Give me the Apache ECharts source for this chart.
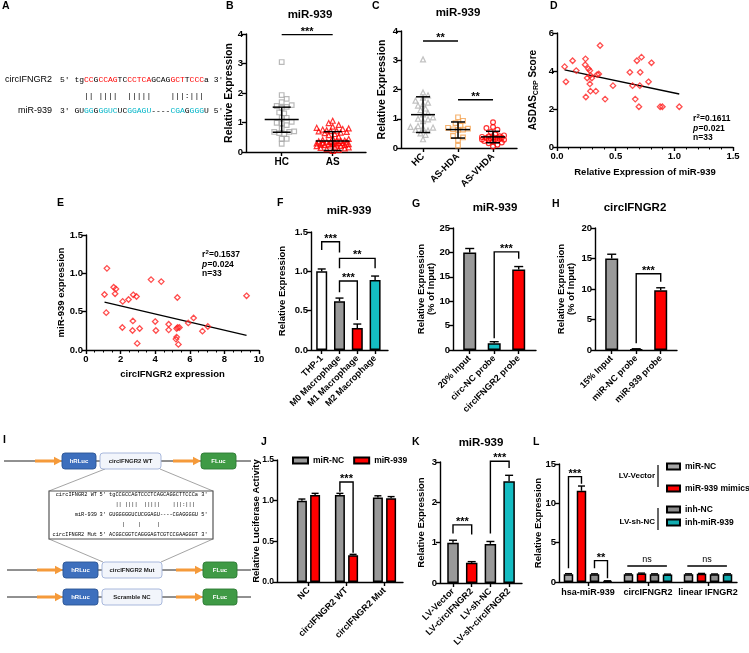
<!DOCTYPE html>
<html>
<head>
<meta charset="utf-8">
<title>circIFNGR2 / miR-939</title>
<script src="https://cdn.jsdelivr.net/npm/echarts@6.0.0/dist/echarts.min.js"></script>
<style>
html,body{margin:0;padding:0;background:#ffffff;}
#chart{width:749px;height:653px;}
</style>
</head>
<body>
<div id="chart"></div>
<script>
const SANS = '"Liberation Sans", Arial, sans-serif';
const MONO = '"Liberation Mono", "DejaVu Sans Mono", monospace';

// ===== Panel A / I : sequences =====
const seqCircWT  = 'tgCCGCCAGTCCCTCAGCAGGCTTCCCa';
const seqMiR939  = 'GUGGGGGUCUCGGAGU----CGAGGGGU';
const seqCircMut = 'ACGGCGGTCAGGGAGTCGTCCGAAGGGT';
const pairWT  = '  || ||||  |||||    |||:|||';
const pairMut = '    |    |     |';

// ===== Panel B =====
const bCategories = ['HC', 'AS'];
const bHC = [3.05,1.93,1.80,1.69,1.59,1.56,1.53,1.50,1.34,1.31,1.16,1.16,1.02,0.99,0.97,0.91,0.80,0.70,0.68,0.68,0.64,0.61,0.45,0.45,0.28];
const bAS = [1.06,0.98,0.92,0.86,0.82,0.80,0.78,0.76,0.74,0.72,0.71,0.70,0.68,0.66,0.64,0.61,0.57,0.52,0.47,0.44,0.41,0.39,0.38,0.37,0.36,0.35,0.34,0.33,0.32,0.31,0.30,0.30,0.29,0.28,0.27,0.27,0.26,0.25,0.24,0.23,0.22,0.21,0.20,0.18,0.16,0.14,0.12,0.10,0.07,0.04];
const bMean = [1.10, 0.37];
const bSDLow = [0.67, 0.05];
const bSDHigh = [1.52, 0.69];
const bSig = [[1, 2, 3.98, 3.98, 3.98]];
const bSigLabels = ['***'];

// ===== Panel C =====
const cCategories = ['HC', 'AS-HDA', 'AS-VHDA'];
const cHC = [3.03,1.90,1.80,1.72,1.62,1.55,1.50,1.45,1.35,1.30,1.20,1.15,1.05,1.00,0.98,0.92,0.75,0.72,0.70,0.68,0.62,0.60,0.50,0.45,0.30];
const cHDA = [1.05,0.93,0.85,0.76,0.69,0.66,0.64,0.63,0.62,0.41,0.36,0.27,0.08];
const cVHDA = [0.88,0.72,0.68,0.62,0.55,0.47,0.43,0.40,0.39,0.38,0.37,0.36,0.35,0.34,0.33,0.31,0.30,0.29,0.28,0.27,0.26,0.24,0.22,0.19,0.16,0.11,0.05];
const cMean = [1.14, 0.63, 0.38];
const cSDLow = [0.53, 0.34, 0.18];
const cSDHigh = [1.75, 0.89, 0.57];
const cSig = [[1, 2, 3.66, 3.66, 3.66], [2, 3, 1.65, 1.65, 1.65]];
const cSigLabels = ['**', '**'];

// ===== Panel D =====
const dX = [0.065,0.076,0.133,0.164,0.243,0.240,0.246,0.268,0.280,0.257,0.280,0.285,0.297,0.285,0.331,0.342,0.356,0.367,0.410,0.477,0.621,0.644,0.667,0.681,0.698,0.706,0.709,0.720,0.780,0.805,0.879,0.898,1.042];
const dY = [4.23,3.43,4.54,4.02,4.64,4.33,2.63,4.12,4.02,3.63,3.32,2.94,3.63,3.77,2.94,3.81,3.84,5.34,2.52,3.23,3.93,3.23,2.52,4.54,2.12,3.23,3.93,4.73,3.43,4.43,2.12,2.12,2.12];
const dFitX = [0.065, 1.042];
const dFitY = [4.06, 2.79];
const dStats = ['0.1611', '0.021', '33'];

// ===== Panel E =====
const eX = [1.21,1.07,1.17,1.60,1.73,1.68,2.12,2.10,2.46,2.73,2.92,2.71,2.69,2.96,3.10,3.76,4.00,4.04,4.35,4.78,4.78,5.28,5.20,5.24,5.30,5.40,5.24,5.34,5.91,6.22,6.73,7.04,9.28];
const eY = [1.065,0.724,0.487,0.819,0.797,0.733,0.634,0.293,0.659,0.720,0.698,0.379,0.254,0.086,0.280,0.918,0.371,0.254,0.892,0.336,0.263,0.685,0.142,0.168,0.293,0.293,0.280,0.073,0.353,0.418,0.246,0.306,0.707];
const eFitX = [1.07, 9.28];
const eFitY = [0.625, 0.190];
const eStats = ['0.1537', '0.024', '33'];

// ===== Panel F =====
const fCategories = ['THP-1', 'M0 Macrophage', 'M1 Macrophage', 'M2 Macrophage'];
const fValues = [1.00, 0.62, 0.28, 0.89];
const fErrors = [0.03, 0.04, 0.05, 0.05];
const fSig = [[1, 2, 1.376, 1.27, 1.24], [2, 4, 1.165, 1.04, 1.04], [2, 3, 0.877, 0.733, 0.38]];
const fSigLabels = ['***', '**', '***'];

// ===== Panel G =====
const gCategories = ['20% Input', 'circ-NC probe', 'circIFNGR2 probe'];
const gValues = [20.0, 1.4, 16.5];
const gErrors = [0.8, 0.3, 0.6];
const gSig = [[2, 3, 20.1, 2.4, 18.7]];
const gSigLabels = ['***'];

// ===== Panel H =====
const hCategories = ['15% Input', 'miR-NC probe', 'miR-939 probe'];
const hValues = [15.0, 0.1, 9.8];
const hErrors = [0.7, 0.1, 0.4];
const hSig = [[2, 3, 12.5, 1.1, 11.2]];
const hSigLabels = ['***'];

// ===== Panel J =====
const jCategories = ['NC', 'circIFNGR2 WT', 'circIFNGR2 Mut'];
const jMiRNC = [1.00, 1.07, 1.04];
const jMiRNCErr = [0.02, 0.02, 0.02];
const jMiR939 = [1.07, 0.33, 1.03];
const jMiR939Err = [0.02, 0.01, 0.02];
const jSigLabels = ['***'];

// ===== Panel K =====
const kCategories = ['LV-Vector', 'LV-circIFNGR2', 'LV-sh-NC', 'LV-sh-circIFNGR2'];
const kValues = [1.00, 0.50, 0.97, 2.52];
const kErrors = [0.06, 0.03, 0.06, 0.15];
const kSig = [[1, 2, 1.44, 1.23, 1.20], [3, 4, 3.02, 1.23, 2.85]];
const kSigLabels = ['***', '***'];

// ===== Panel L =====
const lCategories = ['hsa-miR-939', 'circIFNGR2', 'linear IFNGR2'];
const lMiRNC = [1.00, 1.00, 1.00];
const lMimics = [11.6, 1.08, 1.05];
const lInhNC = [0.98, 1.00, 0.98];
const lInh939 = [0.12, 0.95, 0.98];
const lMiRNCErr = [0.06, 0.04, 0.04];
const lMimicsErr = [0.6, 0.05, 0.04];
const lInhNCErr = [0.06, 0.04, 0.04];
const lInh939Err = [0.03, 0.05, 0.06];
const lSigLabels = ['***', '**', 'ns', 'ns'];

// ---------- layout ----------
const GRID = [
  {left:246, top:34,  width:120, height:118}, // B
  {left:401, top:31,  width:116, height:117}, // C
  {left:557, top:33,  width:176, height:114}, // D
  {left:86,  top:235, width:173, height:115}, // E
  {left:311, top:232, width:77,  height:118}, // F
  {left:453, top:228, width:83,  height:122}, // G
  {left:595, top:228, width:82,  height:122}, // H
  {left:277, top:460, width:126, height:122}, // J
  {left:440, top:462, width:82,  height:121}, // K
  {left:559, top:464, width:178, height:118}  // L
];
const J_OFF = 6.6 / 38;           // half pair spacing in axis units
const L_OFF1 = 6.5 / 60, L_OFF2 = 19.5 / 60;

const RED = '#ff0000', GREY = '#999999', TEAL = '#14bcc2';

const AXLINE = {show:true, onZero:false, lineStyle:{color:'#000', width:1.4}};
function tick(len) { return {show:true, inside:false, length:len || 4, lineStyle:{color:'#000', width:1.4}}; }
function lbl(fs) { return {color:'#000', fontFamily:SANS, fontWeight:'bold', fontSize:fs || 9.5}; }
const fix1 = v => v.toFixed(1);

function valY(gi, min, max, interval, name, gap, fs, fmt, extraName, labelSize) {
  const ax = {
    type:'value', gridIndex:gi, min, max, interval,
    axisLine:AXLINE, axisTick:tick(), splitLine:{show:false},
    axisLabel:Object.assign(lbl(labelSize || 9.5), {margin:3}),
    name, nameLocation:'middle', nameGap:gap, nameMoveOverlap:false,
    nameTextStyle:Object.assign({color:'#000', fontFamily:SANS, fontWeight:'bold', fontSize:fs}, extraName || {})
  };
  if (fmt) ax.axisLabel.formatter = fmt;
  return ax;
}
function catX(gi, min, max, cats, rotate, fs, margin) {
  const pos = cats.map((c, i) => i + 1);
  return {
    type:'value', gridIndex:gi, min, max,
    axisLine:AXLINE, axisTick:Object.assign(tick(), {customValues:pos}), splitLine:{show:false},
    axisLabel:Object.assign(lbl(fs || 9.5), {customValues:pos, rotate:rotate || 0, margin:margin || 4,
      formatter: v => cats[Math.round(v) - 1] || ''})
  };
}

// simple beeswarm: horizontal pixel offsets so markers do not pile up
function swarm(vals, pxY, collide, step, maxOff) {
  const order = vals.map((v, i) => i).sort((a, b) => vals[a] - vals[b]);
  const placed = [], off = new Array(vals.length).fill(0);
  order.forEach(i => {
    const y = vals[i] * pxY;
    let best = 0, bestD = -1;
    for (let k = 0; k < 80; k++) {
      const o = (k % 2 === 1 ? 1 : -1) * Math.ceil(k / 2) * step;
      if (Math.abs(o) > maxOff) break;
      let dmin = Infinity;
      placed.forEach(p => { dmin = Math.min(dmin, Math.hypot(p[0] - o, p[1] - y)); });
      if (dmin >= collide) { best = o; break; }
      if (dmin > bestD) { bestD = dmin; best = o; }
    }
    off[i] = best; placed.push([best, y]);
  });
  return off;
}
function swarmData(vals, idx, pxY, pxX, collide, step, maxOff) {
  const off = swarm(vals, pxY, collide, step, maxOff);
  return vals.map((v, i) => [idx + off[i] / pxX, v]);
}

function scatterS(ax, data, symbol, color, size, bw) {
  return {type:'scatter', xAxisIndex:ax, yAxisIndex:ax, data, symbol, symbolSize:size || 5, silent:true, z:3,
    itemStyle:{color:'rgba(255,255,255,0)', borderColor:color, borderWidth:bw || 1.2}};
}
function meanS(ax, means, lows, highs, halfMean, halfCap) {
  return {type:'custom', xAxisIndex:ax, yAxisIndex:ax, silent:true, clip:false, z:6,
    data: means.map((m, i) => [i + 1, m, lows[i], highs[i]]),
    renderItem: (params, api) => {
      const x = api.value(0);
      const pm = api.coord([x, api.value(1)]), pl = api.coord([x, api.value(2)]), ph = api.coord([x, api.value(3)]);
      const st = {stroke:'#000', lineWidth:1.5};
      return {type:'group', children:[
        {type:'line', shape:{x1:pm[0] - halfMean, y1:pm[1], x2:pm[0] + halfMean, y2:pm[1]}, style:st},
        {type:'line', shape:{x1:pl[0], y1:pl[1], x2:ph[0], y2:ph[1]}, style:st},
        {type:'line', shape:{x1:pl[0] - halfCap, y1:pl[1], x2:pl[0] + halfCap, y2:pl[1]}, style:st},
        {type:'line', shape:{x1:ph[0] - halfCap, y1:ph[1], x2:ph[0] + halfCap, y2:ph[1]}, style:st}
      ]};
    }};
}
function barS(ax, name, xs, vals, colors, width) {
  return {type:'bar', name, xAxisIndex:ax, yAxisIndex:ax, barWidth:width, barGap:'-100%', silent:true, z:2,
    itemStyle:{color:Array.isArray(colors) ? colors[0] : colors, borderColor:'#000', borderWidth:1.5},
    data: vals.map((v, i) => ({value:[xs[i], v], itemStyle:{color:Array.isArray(colors) ? colors[i] : colors, borderColor:'#000', borderWidth:1.5}}))};
}
function errS(ax, xs, vals, errs, cap) {
  return {type:'custom', xAxisIndex:ax, yAxisIndex:ax, silent:true, clip:false, z:4,
    data: vals.map((v, i) => [xs[i], v, errs[i]]),
    renderItem: (params, api) => {
      const x = api.value(0), v = api.value(1), e = api.value(2);
      const p0 = api.coord([x, v]), p1 = api.coord([x, v + e]);
      const st = {stroke:'#000', lineWidth:1.4};
      return {type:'group', children:[
        {type:'line', shape:{x1:p0[0], y1:p0[1], x2:p1[0], y2:p1[1]}, style:st},
        {type:'line', shape:{x1:p1[0] - cap, y1:p1[1], x2:p1[0] + cap, y2:p1[1]}, style:st}
      ]};
    }};
}
function sigS(ax, defs, labels, starSize) {
  return {type:'custom', xAxisIndex:ax, yAxisIndex:ax, silent:true, clip:false, z:7,
    data: defs,
    renderItem: (params, api) => {
      const a = api.coord([api.value(0), api.value(3)]);
      const b = api.coord([api.value(0), api.value(2)]);
      const c = api.coord([api.value(1), api.value(2)]);
      const d = api.coord([api.value(1), api.value(4)]);
      const lab = labels[params.dataIndex];
      const ns = lab === 'ns';
      const va = ns ? 'bottom' : 'middle';
      return {type:'group', children:[
        {type:'polyline', shape:{points:[a, b, c, d]}, style:{stroke:'#000', lineWidth:1.4, fill:null}},
        {type:'text', x:(b[0] + c[0]) / 2, y:ns ? b[1] - 2 : b[1] - 3,
          style:{text:lab, fill:'#000', font:(ns ? 'normal 9px ' : 'bold ' + (starSize || 11) + 'px ') + SANS,
            textAlign:'center', align:'center', textVerticalAlign:va, verticalAlign:va}}
      ]};
    }};
}
function fitS(ax, xs, ys) {
  return {type:'line', xAxisIndex:ax, yAxisIndex:ax, data:xs.map((x, i) => [x, ys[i]]), symbol:'none', silent:true, z:2,
    lineStyle:{color:'#000', width:1.3}};
}

// ---------- axes ----------
const xAxes = [
  catX(0, 0.30, 2.653, bCategories, 0, 10, 5),
  catX(1, 0.371, 3.685, cCategories, 45, 9.5, 7),
  {type:'value', gridIndex:2, min:0, max:1.5, interval:0.5, axisLine:AXLINE, axisTick:tick(), splitLine:{show:false},
    minorTick:{show:true, splitNumber:5, length:2.5, lineStyle:{color:'#000', width:1}},
    axisLabel:Object.assign(lbl(9.5), {margin:4, formatter:fix1}),
    name:'Relative Expression of miR-939', nameLocation:'middle', nameGap:20, nameMoveOverlap:false,
    nameTextStyle:{color:'#000', fontFamily:SANS, fontWeight:'bold', fontSize:9.5}},
  {type:'value', gridIndex:3, min:0, max:10, interval:2, axisLine:AXLINE, axisTick:tick(), splitLine:{show:false},
    minorTick:{show:true, splitNumber:4, length:2.5, lineStyle:{color:'#000', width:1}},
    axisLabel:Object.assign(lbl(9.5), {margin:4}),
    name:'circIFNGR2 expression', nameLocation:'middle', nameGap:19, nameMoveOverlap:false,
    nameTextStyle:{color:'#000', fontFamily:SANS, fontWeight:'bold', fontSize:9.5}},
  catX(4, 0.399, 4.725, fCategories, 45, 9, 7),
  catX(5, 0.318, 3.706, gCategories, 45, 9, 7),
  catX(6, 0.318, 3.665, hCategories, 45, 9, 7),
  catX(7, 0.171, 3.487, jCategories, 45, 9, 7),
  catX(8, 0.305, 4.69, kCategories, 45, 9, 7),
  catX(9, 0.517, 3.483, lCategories, 0, 9, 6)
];
const yAxes = [
  valY(0, 0, 4, 1, 'Relative Expression', 11, 10.5),
  valY(1, 0, 4, 1, 'Relative Expression', 13, 10.5),
  valY(2, 0, 6, 2, '{a|ASDAS}{s|CRP}{a| Score}', 17, 10, null,
    {rich:{a:{fontFamily:SANS, fontWeight:'bold', fontSize:10, color:'#000', lineHeight:14, verticalAlign:'middle'},
           s:{fontFamily:SANS, fontWeight:'bold', fontSize:7, color:'#000', lineHeight:14, verticalAlign:'bottom'}}}),
  valY(3, 0, 1.5, 0.5, 'miR-939 expression', 20, 9.5, fix1),
  valY(4, 0, 1.5, 0.5, 'Relative Expression', 24, 9.5, fix1),
  valY(5, 0, 25, 5, 'Relative Expression\n(% of Input)', 17, 9.5),
  valY(6, 0, 20, 5, 'Relative Expression\n(% of Input)', 19, 9.5),
  valY(7, 0, 1.5, 0.5, 'Relative Luciferase Activity', 16, 9.5, fix1, null, 8.5),
  valY(8, 0, 3, 1, 'Relative Expression', 14, 9.5),
  valY(9, 0, 15, 5, 'Relative Expression', 16, 9.5)
];

// ---------- series ----------
const series = [];
// B
series.push(scatterS(0, swarmData(bHC, 1, 29.5, 51, 5, 2.5, 16), 'rect', '#a8a8a8', 4.6));
series.push(scatterS(0, swarmData(bAS, 2, 29.5, 51, 4.5, 2, 17), 'triangle', RED, 5));
series.push(meanS(0, bMean, bSDLow, bSDHigh, 17, 9));
series.push(sigS(0, bSig, bSigLabels));
// C
series.push(scatterS(1, swarmData(cHC, 1, 29.25, 35, 5, 2.5, 13), 'triangle', '#b3b3b3', 5));
series.push(scatterS(1, swarmData(cHDA, 2, 29.25, 35, 5, 2.5, 12), 'rect', '#f4a04c', 4.6));
series.push(scatterS(1, swarmData(cVHDA, 3, 29.25, 35, 4.5, 2.2, 13), 'circle', RED, 4.8));
series.push(meanS(1, cMean, cSDLow, cSDHigh, 12, 7));
series.push(sigS(1, cSig, cSigLabels));
// D
series.push(scatterS(2, dX.map((x, i) => [x, dY[i]]), 'diamond', '#ff2020', 5.5, 1.3));
series.push(fitS(2, dFitX, dFitY));
// E
series.push(scatterS(3, eX.map((x, i) => [x, eY[i]]), 'diamond', '#ff2020', 5.5, 1.3));
series.push(fitS(3, eFitX, eFitY));
// F
const fX = fValues.map((v, i) => i + 1);
series.push(barS(4, 'F', fX, fValues, ['#ffffff', GREY, RED, TEAL], 11));
series.push(errS(4, fX, fValues, fErrors, 4));
series.push(sigS(4, fSig, fSigLabels));
// G
const gX = gValues.map((v, i) => i + 1);
series.push(barS(5, 'G', gX, gValues, [GREY, TEAL, RED], 13));
series.push(errS(5, gX, gValues, gErrors, 4.5));
series.push(sigS(5, gSig, gSigLabels));
// H
const hX = hValues.map((v, i) => i + 1);
series.push(barS(6, 'H', hX, hValues, [GREY, TEAL, RED], 13));
series.push(errS(6, hX, hValues, hErrors, 4.5));
series.push(sigS(6, hSig, hSigLabels));
// J
const jX1 = jMiRNC.map((v, i) => i + 1 - J_OFF), jX2 = jMiR939.map((v, i) => i + 1 + J_OFF);
series.push(barS(7, 'miR-NC', jX1, jMiRNC, GREY, 10));
series.push(barS(7, 'miR-939', jX2, jMiR939, RED, 10));
series.push(errS(7, jX1, jMiRNC, jMiRNCErr, 3.5));
series.push(errS(7, jX2, jMiR939, jMiR939Err, 3.5));
series.push(sigS(7, [[2 - J_OFF, 2 + J_OFF, 1.23, 1.11, 0.36]], jSigLabels));
// K
const kX = kValues.map((v, i) => i + 1);
series.push(barS(8, 'K', kX, kValues, [GREY, RED, GREY, TEAL], 11.5));
series.push(errS(8, kX, kValues, kErrors, 4));
series.push(sigS(8, kSig, kSigLabels));
// L
const lX = [lMiRNC.map((v, i) => i + 1 - L_OFF2), lMimics.map((v, i) => i + 1 - L_OFF1),
            lInhNC.map((v, i) => i + 1 + L_OFF1), lInh939.map((v, i) => i + 1 + L_OFF2)];
series.push(barS(9, 'L:miR-NC', lX[0], lMiRNC, '#a6a6a6', 9.5));
series.push(barS(9, 'L:miR-939 mimics', lX[1], lMimics, RED, 9.5));
series.push(barS(9, 'L:inh-NC', lX[2], lInhNC, '#8c8c8c', 9.5));
series.push(barS(9, 'L:inh-miR-939', lX[3], lInh939, '#12adb1', 9.5));
series.push(errS(9, lX[0], lMiRNC, lMiRNCErr, 3.5));
series.push(errS(9, lX[1], lMimics, lMimicsErr, 3.5));
series.push(errS(9, lX[2], lInhNC, lInhNCErr, 3.5));
series.push(errS(9, lX[3], lInh939, lInh939Err, 3.5));
series.push(sigS(9, [
  [1 - L_OFF2, 1 - L_OFF1, 13.4, 1.75, 12.5],
  [1 + L_OFF1, 1 + L_OFF2, 2.72, 1.75, 0.48],
  [2 - L_OFF2 - 0.02, 2 + L_OFF2 - 0.01, 2.03, 2.03, 2.03],
  [3 - L_OFF2 - 0.02, 3 + L_OFF2 - 0.01, 2.03, 2.03, 2.03]
], lSigLabels));

// ---------- graphic (panel letters, titles, notes, diagrams) ----------
function T(x, y, text, size, o) {
  o = o || {};
  const font = (o.italic ? 'italic ' : '') + (o.weight || 'bold') + ' ' + size + 'px ' + (o.family || SANS);
  const al = o.align || 'left', va = o.valign || 'middle';
  return {type:'text', x, y, silent:true, z:10,
    style:{text, font, fill:o.color || '#000', textAlign:al, align:al, textVerticalAlign:va, verticalAlign:va}};
}
function richSeq(x, y, prefix, seq, suffix, mask, key, size) {
  let s = '{k|' + prefix + '}';
  let i = 0;
  while (i < seq.length) {
    const col = mask[i] === '|' ? key : 'k';
    let j = i;
    while (j < seq.length && (mask[j] === '|' ? key : 'k') === col) j++;
    s += '{' + col + '|' + seq.slice(i, j) + '}';
    i = j;
  }
  s += '{k|' + suffix + '}';
  const tok = c => ({fill:c, color:c, fontFamily:MONO, fontSize:size, fontWeight:'normal'});
  return {type:'text', x, y, silent:true, z:10,
    style:{text:s, font:'normal ' + size + 'px ' + MONO, fill:'#000', textAlign:'left', align:'left',
      textVerticalAlign:'middle', verticalAlign:'middle', rich:{k:tok('#000'), r:tok('#ff0000'), c:tok('#00b5c8')}}};
}
function stats(x, y, vals, size) {
  return [
    T(x, y, 'r', size), T(x + 3.6, y - 3, '2', 6), T(x + 7, y, '=' + vals[0], size),
    T(x, y + 9.5, 'p', size, {italic:true}), T(x + 5.6, y + 9.5, '=' + vals[1], size),
    T(x, y + 19, 'n=' + vals[2], size)
  ];
}
const G = [];
// panel letters
[['A',2,6],['B',226,6],['C',372,6],['D',550,6],['E',57,203],['F',277,203],['G',412,204],['H',552,204],
 ['I',3,440],['J',261,442],['K',412,442],['L',533,442]].forEach(l => G.push(T(l[1], l[2], l[0], 10.5)));
// titles
G.push(T(310, 15, 'miR-939', 11.5, {align:'center'}));
G.push(T(458, 13, 'miR-939', 11.5, {align:'center'}));
G.push(T(349, 211, 'miR-939', 11.5, {align:'center'}));
G.push(T(495, 208, 'miR-939', 11.5, {align:'center'}));
G.push(T(635, 208, 'circIFNGR2', 11.5, {align:'center'}));
G.push(T(481, 443, 'miR-939', 11.5, {align:'center'}));
// regression notes
stats(693, 119, dStats, 8.5).forEach(e => G.push(e));
stats(202, 255, eStats, 8.5).forEach(e => G.push(e));
// panel A
G.push(T(52, 80, 'circIFNGR2', 9, {align:'right', weight:'normal'}));
G.push(T(52, 111, 'miR-939', 9, {align:'right', weight:'normal'}));
G.push(richSeq(60, 80, "5' ", seqCircWT, " 3'", pairWT, 'r', 8));
G.push(T(60, 96, '   ' + pairWT, 8, {weight:'normal', family:MONO}));
G.push(richSeq(60, 111, "3' ", seqMiR939, " 5'", pairWT, 'c', 8));
// panel L legend group labels
G.push(T(655, 476, 'LV-Vector', 8, {align:'right'}));
G.push(T(655, 522, 'LV-sh-NC', 8, {align:'right'}));
G.push({type:'line', silent:true, shape:{x1:658, y1:465, x2:658, y2:487}, style:{stroke:'#000', lineWidth:1.2}});
G.push({type:'line', silent:true, shape:{x1:658, y1:508, x2:658, y2:530}, style:{stroke:'#000', lineWidth:1.2}});

// panel I diagram
const ORANGE = '#f59a3a';
function arrow(a, b, y) {
  return {type:'polygon', silent:true, shape:{points:[[a, y - 1.6], [b - 8, y - 1.6], [b - 8, y - 4.2], [b, y], [b - 8, y + 4.2], [b - 8, y + 1.6], [a, y + 1.6]]},
    style:{fill:ORANGE}};
}
function box(x1, x2, y, fill, stroke, label, color) {
  return [
    {type:'rect', silent:true, shape:{x:x1, y:y - 8, width:x2 - x1, height:16, r:3}, style:{fill, stroke, lineWidth:0.9}},
    T((x1 + x2) / 2, y, label, 6, {align:'center', color})
  ];
}
const rowsI = [
  {y:461, x0:4,  a1:[35, 62], h:[62, 96],  m:[100, 161], a2:[173, 201], f:[201, 236], label:'circIFNGR2 WT'},
  {y:570, x0:7,  a1:[37, 63], h:[63, 98],  m:[102, 162], a2:[176, 203], f:[203, 237], label:'circIFNGR2 Mut'},
  {y:597, x0:7,  a1:[37, 63], h:[63, 98],  m:[102, 162], a2:[176, 203], f:[203, 237], label:'Scramble NC'}
];
// connectors + zoom box
[[105, 469, 49, 491], [160, 469, 213, 491], [49, 539, 103, 562], [213, 539, 161, 562]].forEach(s =>
  G.push({type:'line', silent:true, shape:{x1:s[0], y1:s[1], x2:s[2], y2:s[3]}, style:{stroke:'#9a9a9a', lineWidth:0.9}}));
G.push({type:'rect', silent:true, shape:{x:49, y:491, width:164, height:48}, style:{fill:'#ffffff', stroke:'#555555', lineWidth:1.2}});
rowsI.forEach(r => {
  G.push({type:'line', silent:true, shape:{x1:r.x0, y1:r.y, x2:251, y2:r.y}, style:{stroke:'#222', lineWidth:1}});
  G.push(arrow(r.a1[0], r.a1[1], r.y));
  G.push(arrow(r.a2[0], r.a2[1], r.y));
  box(r.h[0], r.h[1], r.y, '#3d6fbd', '#2b5594', 'hRLuc', '#ffffff').forEach(e => G.push(e));
  box(r.m[0], r.m[1], r.y, '#f2f5fb', '#9fb1d8', r.label, '#222222').forEach(e => G.push(e));
  box(r.f[0], r.f[1], r.y, '#3f9a45', '#2e7a34', 'FLuc', '#ffffff').forEach(e => G.push(e));
});
const MS = 5.3;
G.push(T(97, 495, 'circIFNGR2 WT', MS, {align:'right', weight:'normal', family:MONO}));
G.push(T(99.5, 495, "5' " + seqCircWT + " 3'", MS, {weight:'normal', family:MONO}));
G.push(T(99.5, 504.5, '   ' + pairWT, MS, {weight:'normal', family:MONO}));
G.push(T(97, 515, 'miR-939', MS, {align:'right', weight:'normal', family:MONO}));
G.push(T(99.5, 515, "3' " + seqMiR939 + " 5'", MS, {weight:'normal', family:MONO}));
G.push(T(99.5, 525, '   ' + pairMut, MS, {weight:'normal', family:MONO}));
G.push(T(97, 535, 'circIFNGR2 Mut', MS, {align:'right', weight:'normal', family:MONO}));
G.push(T(99.5, 535, "5' " + seqCircMut + " 3'", MS, {weight:'normal', family:MONO}));

// ---------- legends ----------
const legTxt = {color:'#000', fontFamily:SANS, fontWeight:'bold', fontSize:8.5};
const legends = [
  {data:['miR-NC', 'miR-939'], left:292, top:456, padding:0, itemWidth:15, itemHeight:6, itemGap:9,
    icon:'rect', textStyle:legTxt, selectedMode:false},
  {data:['L:miR-NC', 'L:miR-939 mimics'], orient:'vertical', left:666, top:462, padding:0, itemWidth:13, itemHeight:6,
    itemGap:13, icon:'rect', textStyle:legTxt, selectedMode:false, formatter:n => n.slice(2)},
  {data:['L:inh-NC', 'L:inh-miR-939'], orient:'vertical', left:666, top:505, padding:0, itemWidth:13, itemHeight:6,
    itemGap:4, icon:'rect', textStyle:legTxt, selectedMode:false, formatter:n => n.slice(2)}
];

const option = {
  animation:false,
  backgroundColor:'#ffffff',
  textStyle:{fontFamily:SANS},
  grid:GRID.map(g => Object.assign({containLabel:false}, g)),
  xAxis:xAxes,
  yAxis:yAxes,
  legend:legends,
  series,
  graphic:G
};
const chart = echarts.init(document.getElementById('chart'), null, {renderer:'canvas'});
chart.setOption(option);
</script>
</body>
</html>
